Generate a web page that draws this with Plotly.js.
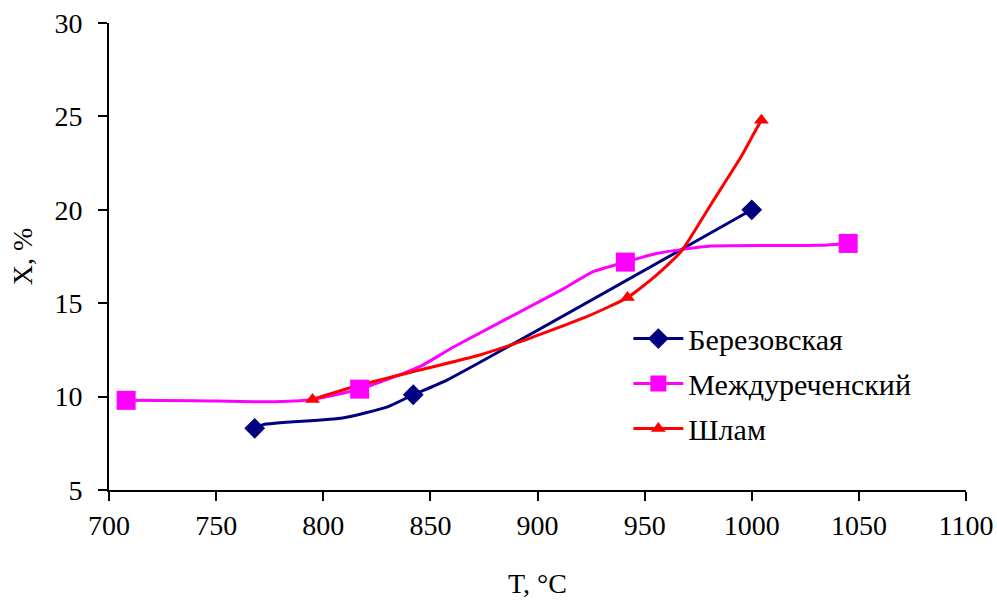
<!DOCTYPE html>
<html>
<head>
<meta charset="utf-8">
<script src="https://cdn.plot.ly/plotly-3.0.1.min.js"></script>
<style>html,body{margin:0;padding:0;background:#fff;}#chart{width:997px;height:602px;}</style>
</head>
<body>
<div id="chart"></div>
<script>
// Series names
const seriesNames = ["Березовская", "Междуреченский", "Шлам"];

// Marker points (T, °C ; X, %)
const berezT = [768, 842, 1000];
const berezX = [8.3, 10.1, 20.0];
const mezhT = [708, 817, 941, 1045];
const mezhX = [9.8, 10.4, 17.2, 18.2];
const shlamT = [795, 942, 1004.5];
const shlamX = [9.85, 15.3, 24.8];

// Curve paths
const berezLineT = [768, 772, 809, 830, 842, 858, 1000];
const berezLineX = [8.3, 8.5, 8.85, 9.45, 10.1, 10.9, 20.0];
const mezhLineT = [708, 740, 774, 795, 817, 845, 861, 911, 926, 941, 956, 981, 1032, 1045];
const mezhLineX = [9.8, 9.78, 9.72, 9.85, 10.4, 11.6, 12.67, 15.7, 16.69, 17.2, 17.67, 18.06, 18.1, 18.2];
const shlamLineT = [795, 817, 845, 873, 892, 923, 942, 954, 967, 981, 995, 1002, 1004.5];
const shlamLineX = [9.85, 10.62, 11.42, 12.23, 12.94, 14.28, 15.3, 16.35, 17.76, 20.3, 22.84, 24.3, 24.8];

const xTicks = [700, 750, 800, 850, 900, 950, 1000, 1050, 1100];
const yTicks = [5, 10, 15, 20, 25, 30];

const colors = ["#000080", "#FF00FF", "#FF0000"];
const symbols = ["diamond", "square", "triangle-up"];
const sizes = [16, 19, 13];

const lines = [[berezLineT, berezLineX], [mezhLineT, mezhLineX], [shlamLineT, shlamLineX]];
const marks = [[berezT, berezX], [mezhT, mezhX], [shlamT, shlamX]];

const traces = [];
for (let i = 0; i < 3; i++) {
  traces.push({
    x: lines[i][0], y: lines[i][1], mode: "lines", type: "scatter",
    line: {color: colors[i], width: 3, shape: "spline", smoothing: 0.5},
    showlegend: false, hoverinfo: "skip"
  });
}
for (let i = 0; i < 3; i++) {
  traces.push({
    x: marks[i][0], y: marks[i][1], mode: "markers", type: "scatter",
    marker: {color: colors[i], symbol: symbols[i], size: sizes[i]},
    showlegend: false
  });
}
for (let i = 0; i < 3; i++) {
  traces.push({
    x: [null], y: [null], mode: "lines+markers", type: "scatter",
    name: seriesNames[i], legendgroup: "g" + i,
    line: {color: colors[i], width: 3},
    marker: {color: colors[i], symbol: symbols[i], size: sizes[i]}
  });
}

const FAM = "Liberation Serif";
function mkFont(s) { return {family: FAM, size: s, color: "#000000"}; }

const layout = {
  width: 997, height: 602,
  margin: {l: 109, r: 31, t: 23, b: 112},
  paper_bgcolor: "#ffffff", plot_bgcolor: "#ffffff",
  font: mkFont(28),
  showlegend: true,
  legend: {
    x: 0.606, y: 0.38, xanchor: "left", yanchor: "top",
    bgcolor: "rgba(0,0,0,0)", font: mkFont(30),
    traceorder: "grouped", tracegroupgap: 3, itemwidth: 50
  },
  xaxis: {
    range: [700, 1100], tickvals: xTicks, ticktext: xTicks.map(String),
    showgrid: false, zeroline: false,
    showline: true, linecolor: "#000000", linewidth: 2,
    ticks: "outside", ticklen: 9, tickwidth: 2, tickcolor: "#000000",
    title: {text: "T, °C", font: mkFont(28), standoff: 34},
    tickfont: mkFont(28)
  },
  yaxis: {
    range: [5, 30], tickvals: yTicks, ticktext: yTicks.map(String),
    showgrid: false, zeroline: false,
    showline: true, linecolor: "#000000", linewidth: 2,
    ticks: "outside", ticklen: 9, tickwidth: 2, tickcolor: "#000000",
    ticklabelstandoff: 10,
    title: {text: "X, %", font: mkFont(28), standoff: 14},
    tickfont: mkFont(28)
  }
};

Plotly.newPlot("chart", traces, layout, {displayModeBar: false, staticPlot: true});
</script>
</body>
</html>
